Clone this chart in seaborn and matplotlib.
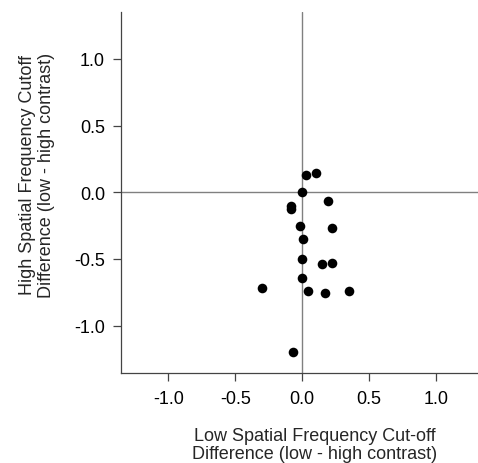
import matplotlib
matplotlib.use("Agg")
import matplotlib.pyplot as plt
import seaborn as sns
import pandas as pd

# Differences (low - high contrast)
low_sf_diff = [0.030, 0.105, 0.000, 0.190, -0.082, -0.087, -0.017, 0.220, 0.008,
               0.000, 0.147, 0.220, 0.000, -0.299, 0.043, 0.172, 0.352, -0.070]
high_sf_diff = [0.132, 0.147, 0.000, -0.063, -0.105, -0.125, -0.255, -0.270, -0.348,
                -0.502, -0.540, -0.532, -0.640, -0.715, -0.737, -0.752, -0.737, -1.200]
ticks = [-1.0, -0.5, 0.0, 0.5, 1.0]
tick_labels = ["-1.0", "-0.5", "0.0", "0.5", "1.0"]

df = pd.DataFrame({"low": low_sf_diff, "high": high_sf_diff})

sns.set_style("white")
plt.rcParams['font.family'] = ['Liberation Sans', 'DejaVu Sans']

W, H = 478, 464
fig = plt.figure(figsize=(W / 100, H / 100), dpi=100)
ax = fig.add_axes([121 / W, (H - 374) / H, (478 - 121) / W, (374 - 13) / H])

ax.axhline(0, color="#808080", lw=1, zorder=1)
ax.axvline(0, color="#808080", lw=1, zorder=1)

sns.scatterplot(data=df, x="low", y="high", ax=ax, color="black", s=48,
                edgecolor="black", linewidth=0, zorder=3)

ax.set_xlim(-1.355, 1.314)
ax.set_ylim(-1.355, 1.352)
ax.set_xticks(ticks)
ax.set_xticklabels(tick_labels)
ax.set_yticks(ticks)
ax.set_yticklabels(tick_labels)

for side in ["top", "right"]:
    ax.spines[side].set_visible(False)
for side in ["left", "bottom"]:
    ax.spines[side].set_color("#444444")
    ax.spines[side].set_linewidth(0.9)

ax.tick_params(axis="both", direction="out", length=5.5, width=0.9, color="#444444",
               labelsize=13, labelcolor="black", pad=7, left=True, bottom=True)
ax.tick_params(axis="y", pad=6)

ax.set_xlabel("Low Spatial Frequency Cut-off\nDifference (low - high contrast)",
              fontsize=13, labelpad=14, linespacing=1.1)
ax.set_ylabel("High Spatial Frequency Cutoff\nDifference (low - high contrast)",
              fontsize=13, labelpad=14, linespacing=1.1)
# the labels sit a little off-centre in the reference
ax.xaxis.label.set_x(0.543)
ax.yaxis.label.set_y(0.551)

fig.savefig("out.png", dpi=100)
